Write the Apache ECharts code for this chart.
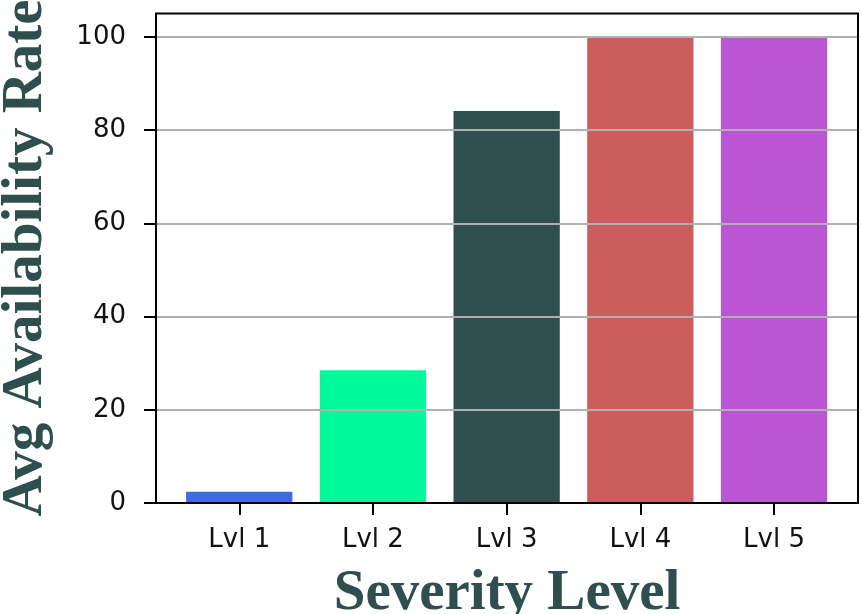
<!DOCTYPE html>
<html>
<head>
<meta charset="utf-8">
<script src="https://cdn.jsdelivr.net/npm/echarts@6/dist/echarts.min.js"></script>
<style>html,body{margin:0;padding:0;background:#fff;}#c{width:862px;height:614px;}</style>
</head>
<body>
<div id="c"></div>
<script>
const categories = ['Lvl 1', 'Lvl 2', 'Lvl 3', 'Lvl 4', 'Lvl 5'];
const values = [2.4, 28.5, 84.1, 100, 100];
const barColors = ['#4169E1', '#00FA9A', '#2F4F4F', '#CD5C5C', '#BA55D3'];
const yTicks = [0, 20, 40, 60, 80, 100];
const xTitle = 'Severity Level';
const yTitle = 'Avg Availability Rate';

const chart = echarts.init(document.getElementById('c'), null, {renderer: 'canvas'});
const tickFont = {fontFamily: 'DejaVu Sans', fontSize: 26, color: '#111'};
chart.setOption({
  animation: false,
  backgroundColor: '#fff',
  grid: [
    {left: 172.4, right: 21.1, top: 13.5, bottom: 111, containLabel: false},
    {left: 156, right: 4, top: 13.5, bottom: 111, show: true, borderColor: '#000', borderWidth: 2, backgroundColor: 'transparent', z: 10}
  ],
  xAxis: [
    {type: 'category', gridIndex: 0, data: categories,
     axisLine: {show: false},
     axisTick: {show: true, inside: false, alignWithLabel: true, length: 12, lineStyle: {color: '#000', width: 2}},
     axisLabel: Object.assign({margin: 24}, tickFont),
     splitLine: {show: false}},
    {type: 'value', gridIndex: 1, min: 0, max: 1, show: false}
  ],
  yAxis: [
    {type: 'value', gridIndex: 0, min: 0, max: 105, show: false},
    {type: 'value', gridIndex: 1, min: 0, max: 105, interval: 20, z: 5,
     axisLine: {show: false},
     axisTick: {show: true, inside: false, length: 12, lineStyle: {color: '#000', width: 2},
       customValues: yTicks},
     axisLabel: Object.assign({margin: 30, customValues: yTicks}, tickFont),
     splitLine: {show: true, showMinLine: false, lineStyle: {color: '#b0b0b0', width: 2}}}
  ],
  series: [{
    type: 'bar', xAxisIndex: 0, yAxisIndex: 0,
    barWidth: '79.5%',
    data: values.map((v, i) => ({value: v, itemStyle: {color: barColors[i]}}))
  }],
  graphic: [
    {type: 'text', x: 507, y: 594, z: 100,
     style: {text: xTitle, font: 'bold 57px "Liberation Serif"', fill: '#2F4F4F', textAlign: 'center', textVerticalAlign: 'middle'}},
    {type: 'text', x: 26, y: 258, rotation: Math.PI / 2, z: 100,
     style: {text: yTitle, font: 'bold 57px "Liberation Serif"', fill: '#2F4F4F', textAlign: 'center', textVerticalAlign: 'middle'}}
  ]
});
</script>
</body>
</html>
